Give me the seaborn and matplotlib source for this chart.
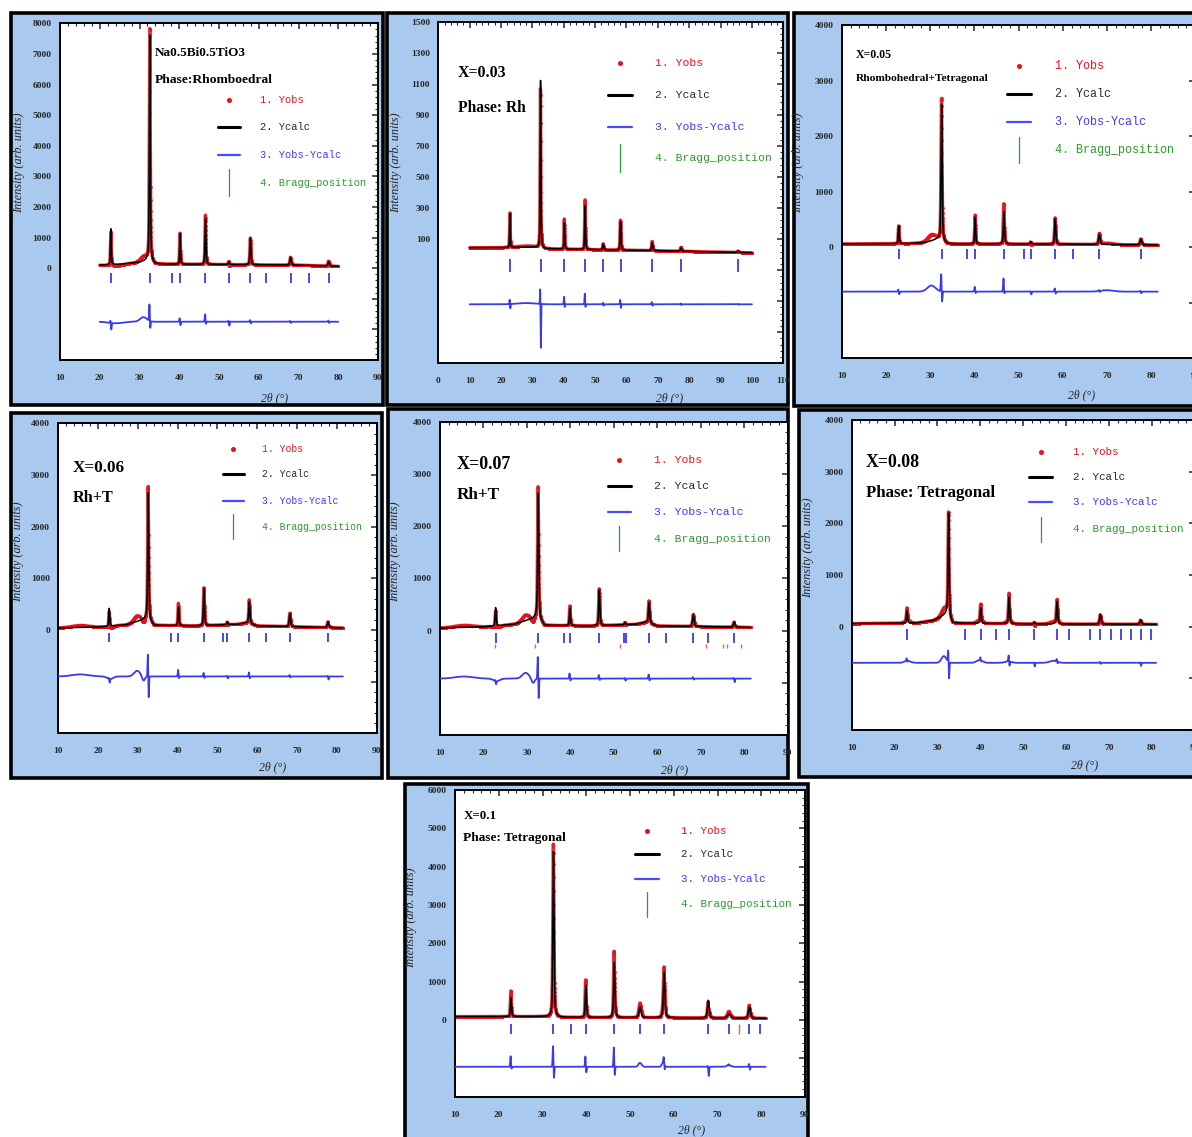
import numpy as np
import matplotlib
matplotlib.use("Agg")
import matplotlib.pyplot as plt
from matplotlib.patches import Rectangle
from matplotlib.ticker import FixedLocator, AutoMinorLocator, FuncFormatter
import seaborn as sns

# ----------------------------------------------------------------------
# Rietveld refinement results, Na0.5Bi0.5TiO3-based ceramics (2θ in °)
# ----------------------------------------------------------------------

# --- x = 0 : Na0.5Bi0.5TiO3, rhombohedral ---
nbt_range = [20.0, 80.0]
nbt_bg_x = [20, 25, 30, 32, 34, 40, 50, 60, 70, 80]
nbt_bg_y = [100, 130, 190, 260, 140, 130, 120, 110, 100, 60]
nbt_peak_pos = [22.8, 32.6, 40.2, 46.6, 52.5, 57.9, 68.0, 77.6]
nbt_peak_int = [1170, 7400, 1000, 1500, 90, 870, 250, 140]
nbt_peak_fwhm = [0.25, 0.28, 0.25, 0.28, 0.35, 0.32, 0.40, 0.45]
nbt_bragg = [22.8, 32.6, 38.3, 40.2, 46.6, 52.5, 57.9, 61.9, 68.0, 72.6, 77.6]
nbt_diff_offset = -1750
nbt_diff_up = [80, 550, 120, 250, 40, 60, 30, 40]
nbt_diff_down = [220, 250, 120, 80, 130, 60, 40, 40]
nbt_hump_pos = [24.0, 31.0]
nbt_hump_amp = [-50, 150]
nbt_hump_wid = [2.5, 1.2]
nbt_yticks = [-3000, -2000, -1000, 0, 1000, 2000, 3000, 4000, 5000, 6000, 7000, 8000]

# --- x = 0.03 : rhombohedral ---
x03_range = [10.0, 100.0]
x03_bg_x = [10, 20, 30, 34, 50, 70, 100]
x03_bg_y = [45, 45, 48, 38, 32, 25, 12]
x03_peak_pos = [22.85, 32.6, 40.2, 46.8, 52.6, 58.1, 68.2, 77.4, 95.6]
x03_peak_int = [218, 1080, 170, 284, 35, 183, 50, 22, 8]
x03_peak_fwhm = [0.25, 0.28, 0.28, 0.30, 0.40, 0.35, 0.45, 0.50, 0.60]
x03_bragg = [22.85, 32.6, 40.2, 46.8, 52.6, 58.1, 68.2, 77.4, 95.6]
x03_diff_offset = -320
x03_diff_up = [30, 110, 50, 70, 10, 30, 15, 5, 3]
x03_diff_down = [30, 290, 20, 20, 10, 25, 10, 5, 3]
x03_hump_pos = [28.0]
x03_hump_amp = [8]
x03_hump_wid = [4.0]
x03_yticks = [-700, -500, -300, -100, 100, 300, 500, 700, 900, 1100, 1300, 1500]

# --- x = 0.05 : rhombohedral + tetragonal ---
x05_range = [10.0, 81.5]
x05_bg_x = [10, 25, 29, 31.5, 34, 45, 60, 81.5]
x05_bg_y = [60, 65, 85, 140, 60, 60, 55, 40]
x05_peak_pos = [22.9, 32.6, 40.2, 46.7, 52.8, 58.3, 68.3, 77.7]
x05_peak_int = [320, 2470, 480, 575, 40, 455, 185, 105]
x05_peak_fwhm = [0.25, 0.30, 0.25, 0.30, 0.35, 0.32, 0.40, 0.45]
x05_bragg = [22.9, 32.6, 38.4, 40.2, 46.7, 51.3, 52.8, 58.3, 62.3, 68.3, 77.7]
x05_diff_offset = -800
x05_diff_up = [40, 320, 90, 240, 10, 60, 20, 15]
x05_diff_down = [50, 200, 30, 40, 50, 40, 20, 30]
x05_hump_pos = [30.3, 70.0]
x05_hump_amp = [110, 25]
x05_hump_wid = [1.3, 2.0]
x05_yticks = [-2000, -1000, 0, 1000, 2000, 3000, 4000]

# --- x = 0.06 : Rh + T ---
x06_range = [10.0, 81.5]
x06_bg_x = [10, 20, 27, 31, 32.3, 34, 45, 55, 57.5, 60, 81.5]
x06_bg_y = [40, 55, 100, 190, 230, 90, 80, 110, 140, 80, 40]
x06_peak_pos = [22.8, 32.6, 40.2, 46.6, 52.5, 58.0, 68.2, 77.8]
x06_peak_int = [345, 2450, 360, 710, 50, 420, 250, 115]
x06_peak_fwhm = [0.28, 0.32, 0.28, 0.32, 0.35, 0.35, 0.42, 0.45]
x06_bragg = [22.8, 38.2, 40.2, 46.6, 51.3, 52.5, 58.0, 62.1, 68.2, 77.8]
x06_diff_offset = -900
x06_diff_up = [20, 450, 130, 70, 15, 80, 30, 15]
x06_diff_down = [70, 430, 40, 30, 40, 40, 20, 60]
x06_hump_pos = [15.5, 29.8, 31.4, 23.0]
x06_hump_amp = [40, 110, -90, -50]
x06_hump_wid = [3.0, 1.1, 0.5, 1.0]
x06_yticks = [-2000, -1000, 0, 1000, 2000, 3000, 4000]

# --- x = 0.07 : Rh + T ---
x07_range = [10.0, 81.5]
x07_bg_x = [10, 20, 27, 31, 32.3, 34, 45, 55, 57.5, 60, 81.5]
x07_bg_y = [50, 70, 120, 220, 260, 100, 90, 120, 160, 90, 60]
x07_peak_pos = [22.8, 32.6, 39.9, 46.65, 52.6, 58.1, 68.3, 77.7]
x07_peak_int = [350, 2400, 330, 680, 40, 390, 220, 100]
x07_peak_fwhm = [0.28, 0.32, 0.28, 0.32, 0.35, 0.35, 0.42, 0.45]
x07_bragg = [22.8, 32.6, 38.6, 39.9, 46.65, 52.4, 52.7, 58.1, 62.1, 68.3, 71.7, 77.7]
x07_bragg2 = [22.6, 31.8, 51.4, 71.2, 75.1, 76.0, 79.2]
x07_diff_offset = -920
x07_diff_up = [20, 440, 100, 70, 15, 80, 30, 15]
x07_diff_down = [60, 400, 40, 30, 40, 40, 20, 70]
x07_hump_pos = [15.5, 29.7, 31.4, 23.0]
x07_hump_amp = [40, 110, -90, -50]
x07_hump_wid = [3.0, 1.1, 0.5, 1.0]
x07_yticks = [-2000, -1000, 0, 1000, 2000, 3000, 4000]

# --- x = 0.08 : tetragonal ---
x08_range = [10.0, 81.0]
x08_bg_x = [10, 25, 29, 31.5, 32.2, 33.5, 50, 81]
x08_bg_y = [60, 70, 120, 220, 260, 70, 55, 45]
x08_peak_pos = [22.9, 32.6, 40.1, 46.7, 52.6, 57.9, 68.0, 77.4]
x08_peak_int = [235, 2000, 300, 515, 30, 435, 180, 85]
x08_peak_fwhm = [0.30, 0.30, 0.30, 0.32, 0.35, 0.35, 0.42, 0.45]
x08_bragg = [22.9, 36.5, 40.1, 43.6, 46.7, 52.6, 57.9, 60.6, 65.6, 68.0,
             70.5, 72.8, 75.1, 77.4, 79.8]
x08_diff_offset = -700
x08_diff_up = [50, 230, 60, 120, 10, 50, 20, 10]
x08_diff_down = [20, 330, 20, 90, 70, 30, 20, 60]
x08_hump_pos = [31.5, 39.8, 57.0, 23.0, 46.5]
x08_hump_amp = [130, 50, 40, 40, 30]
x08_hump_wid = [0.8, 1.0, 1.2, 1.0, 1.0]
x08_yticks = [-2000, -1000, 0, 1000, 2000, 3000, 4000]

# --- x = 0.1 : tetragonal ---
x10_range = [10.0, 81.0]
x10_bg_x = [10, 30, 34, 60, 81]
x10_bg_y = [90, 90, 70, 60, 45]
x10_peak_pos = [22.8, 32.5, 39.9, 46.4, 52.3, 57.8, 67.9, 72.6, 77.3]
x10_peak_int = [485, 4320, 840, 1430, 280, 1180, 460, 110, 290]
x10_peak_fwhm = [0.30, 0.32, 0.32, 0.35, 0.55, 0.40, 0.45, 0.80, 0.55]
x10_bragg = [22.8, 32.5, 36.5, 39.9, 46.4, 52.3, 57.8, 67.9, 72.7, 77.3, 79.6]
x10_bragg2 = [75.0]
x10_diff_offset = -1220
x10_diff_up = [280, 560, 280, 520, 0, 150, 30, 20, 80]
x10_diff_down = [60, 320, 160, 240, 20, 140, 240, 20, 80]
x10_hump_pos = [52.3, 57.6, 72.6]
x10_hump_amp = [110, 120, 50]
x10_hump_wid = [0.5, 0.4, 0.6]
x10_yticks = [-2000, -1000, 0, 1000, 2000, 3000, 4000, 5000, 6000]

xticks_80 = [10, 20, 30, 40, 50, 60, 70, 80, 90]
xticks_110 = [0, 10, 20, 30, 40, 50, 60, 70, 80, 90, 100, 110]

legend_labels = ["1. Yobs", "2. Ycalc", "3. Yobs-Ycalc", "4. Bragg_position"]

# ----------------------------------------------------------------------
# Styling
# ----------------------------------------------------------------------
sns.set_style("white")
plt.rcParams["font.family"] = ["Liberation Serif", "DejaVu Serif"]
plt.rcParams["font.weight"] = "bold"

W, H = 1192, 1137
PANEL_BLUE = "#a9c9ee"
RED = "#e8121a"
BLUE = "#3a3ae8"
TICK_BLUE = "#2a2ae0"
GREEN = "#2e9a2e"
LEG_COLORS = [RED, "#2a2a2a", "#3a3aff", GREEN]


def pseudo_voigt(x, pos, inten, fwhm, eta=0.5):
    y = np.zeros_like(x)
    for c, h, w in zip(pos, inten, fwhm):
        u = (x - c) / w
        y += h * (eta / (1 + 4 * u ** 2) + (1 - eta) * np.exp(-4 * np.log(2) * u ** 2))
    return y


def misfit(x, pos, up, down, hpos, hamp, hwid, w=0.12):
    d = np.zeros_like(x)
    for c, a, b in zip(pos, up, down):
        d += a * np.exp(-((x - (c - 0.8 * w)) / w) ** 2)
        d -= b * np.exp(-((x - (c + 0.8 * w)) / w) ** 2)
    for c, a, s in zip(hpos, hamp, hwid):
        d += a * np.exp(-((x - c) / s) ** 2)
    return d


panels = [
    dict(rng=nbt_range, bgx=nbt_bg_x, bgy=nbt_bg_y, pos=nbt_peak_pos, inten=nbt_peak_int,
         fwhm=nbt_peak_fwhm, bragg=nbt_bragg, bragg2=None, off=nbt_diff_offset,
         up=nbt_diff_up, down=nbt_diff_down, hpos=nbt_hump_pos, hamp=nbt_hump_amp,
         hwid=nbt_hump_wid, yticks=nbt_yticks, xticks=xticks_80,
         notes=["Na0.5Bi0.5TiO3", "Phase:Rhomboedral"]),
    dict(rng=x03_range, bgx=x03_bg_x, bgy=x03_bg_y, pos=x03_peak_pos, inten=x03_peak_int,
         fwhm=x03_peak_fwhm, bragg=x03_bragg, bragg2=None, off=x03_diff_offset,
         up=x03_diff_up, down=x03_diff_down, hpos=x03_hump_pos, hamp=x03_hump_amp,
         hwid=x03_hump_wid, yticks=x03_yticks, xticks=xticks_110,
         notes=["X=0.03", "Phase: Rh"]),
    dict(rng=x05_range, bgx=x05_bg_x, bgy=x05_bg_y, pos=x05_peak_pos, inten=x05_peak_int,
         fwhm=x05_peak_fwhm, bragg=x05_bragg, bragg2=None, off=x05_diff_offset,
         up=x05_diff_up, down=x05_diff_down, hpos=x05_hump_pos, hamp=x05_hump_amp,
         hwid=x05_hump_wid, yticks=x05_yticks, xticks=xticks_80,
         notes=["X=0.05", "Rhombohedral+Tetragonal"]),
    dict(rng=x06_range, bgx=x06_bg_x, bgy=x06_bg_y, pos=x06_peak_pos, inten=x06_peak_int,
         fwhm=x06_peak_fwhm, bragg=x06_bragg, bragg2=None, off=x06_diff_offset,
         up=x06_diff_up, down=x06_diff_down, hpos=x06_hump_pos, hamp=x06_hump_amp,
         hwid=x06_hump_wid, yticks=x06_yticks, xticks=xticks_80,
         notes=["X=0.06", "Rh+T"]),
    dict(rng=x07_range, bgx=x07_bg_x, bgy=x07_bg_y, pos=x07_peak_pos, inten=x07_peak_int,
         fwhm=x07_peak_fwhm, bragg=x07_bragg, bragg2=x07_bragg2, off=x07_diff_offset,
         up=x07_diff_up, down=x07_diff_down, hpos=x07_hump_pos, hamp=x07_hump_amp,
         hwid=x07_hump_wid, yticks=x07_yticks, xticks=xticks_80,
         notes=["X=0.07", "Rh+T"]),
    dict(rng=x08_range, bgx=x08_bg_x, bgy=x08_bg_y, pos=x08_peak_pos, inten=x08_peak_int,
         fwhm=x08_peak_fwhm, bragg=x08_bragg, bragg2=None, off=x08_diff_offset,
         up=x08_diff_up, down=x08_diff_down, hpos=x08_hump_pos, hamp=x08_hump_amp,
         hwid=x08_hump_wid, yticks=x08_yticks, xticks=xticks_80,
         notes=["X=0.08", "Phase: Tetragonal"]),
    dict(rng=x10_range, bgx=x10_bg_x, bgy=x10_bg_y, pos=x10_peak_pos, inten=x10_peak_int,
         fwhm=x10_peak_fwhm, bragg=x10_bragg, bragg2=x10_bragg2, off=x10_diff_offset,
         up=x10_diff_up, down=x10_diff_down, hpos=x10_hump_pos, hamp=x10_hump_amp,
         hwid=x10_hump_wid, yticks=x10_yticks, xticks=xticks_80,
         notes=["X=0.1", "Phase: Tetragonal"]),
]

# Layout of each panel (pixels from the top-left corner of the figure)
layout = [
    dict(frame=(10.5, 13, 382.5, 405), axes=(60, 23.3, 378, 360), tick_y=(-500, -160),
         tick2_y=None, leg=(0.531, 0.629, [0.772, 0.692, 0.609, 0.526], 7.5),
         note=(0.299, [0.912, 0.832], [9.5, 9.7]), ylab=(19, 163), xlab=(275, 398)),
    dict(frame=(387, 13.5, 788, 405), axes=(438.3, 21.7, 783.3, 363.3), tick_y=(-115, -30),
         tick2_y=None, leg=(0.527, 0.628, [0.879, 0.785, 0.692, 0.601], 8.2),
         note=(0.057, [0.85, 0.747], [11.4, 11.2]), ylab=(396, 163), xlab=(670, 398)),
    dict(frame=(793.5, 13, 1205, 405.5), axes=(841.7, 25, 1195.3, 358.3), tick_y=(-210, -30),
         tick2_y=None, leg=(0.501, 0.602, [0.878, 0.793, 0.710, 0.625], 8.5),
         note=(0.041, [0.91, 0.838], [8.5, 8.2]), ylab=(798, 163), xlab=(1082, 395)),
    dict(frame=(10.5, 413.5, 381.5, 777.5), axes=(58.3, 423.3, 376.7, 733.3), tick_y=(-225, -65),
         tick2_y=None, leg=(0.55, 0.639, [0.917, 0.835, 0.750, 0.666], 7.0),
         note=(0.045, [0.857, 0.76], [12.3, 11.6]), ylab=(18, 552), xlab=(273, 767)),
    dict(frame=(388, 409, 788, 778), axes=(440, 421.7, 787.7, 735), tick_y=(-245, -50),
         tick2_y=(-330, -265), leg=(0.516, 0.616, [0.878, 0.796, 0.711, 0.626], 8.2),
         note=(0.048, [0.864, 0.766], [13.0, 12.3]), ylab=(395, 552), xlab=(675, 770)),
    dict(frame=(799, 410, 1205, 777), axes=(851.7, 420, 1194.7, 730), tick_y=(-260, -45),
         tick2_y=None, leg=(0.551, 0.646, [0.896, 0.817, 0.735, 0.648], 7.8),
         note=(0.042, [0.864, 0.764], [12.8, 12.1]), ylab=(808, 548), xlab=(1085, 765)),
    dict(frame=(405, 783.5, 807.5, 1145), axes=(455, 790, 805, 1096.7), tick_y=(-375, -115),
         tick2_y=(-375, -115), leg=(0.549, 0.645, [0.867, 0.790, 0.709, 0.627], 7.8),
         note=(0.024, [0.916, 0.844], [9.4, 9.6]), ylab=(411, 918), xlab=(692, 1130)),
]


def fig_box(x0, y0, x1, y1):
    return [x0 / W, 1 - y1 / H, (x1 - x0) / W, (y1 - y0) / H]


fig = plt.figure(figsize=(W / 100, H / 100), dpi=100, facecolor="white")

for p, lay in zip(panels, layout):
    fx0, fy0, fx1, fy1 = lay["frame"]
    fig.add_artist(Rectangle((fx0 / W, 1 - fy1 / H), (fx1 - fx0) / W, (fy1 - fy0) / H,
                             transform=fig.transFigure, facecolor=PANEL_BLUE,
                             edgecolor="black", linewidth=2.6, zorder=-5))

    ax0, ay0, ax1, ay1 = lay["axes"]
    ax = fig.add_axes(fig_box(ax0, ay0, ax1, ay1))
    ax.set_facecolor("white")
    ax_w, ax_h = ax1 - ax0, ay1 - ay0

    x = np.arange(p["rng"][0], p["rng"][1] + 1e-9, 0.01)
    ycalc = np.interp(x, p["bgx"], p["bgy"]) + pseudo_voigt(x, p["pos"], p["inten"], p["fwhm"])
    dev = misfit(x, p["pos"], p["up"], p["down"], p["hpos"], p["hamp"], p["hwid"])
    yobs = ycalc + dev
    ydiff = p["off"] + dev

    # observed points: a dense red trace of small dots
    sns.lineplot(x=x, y=yobs, color=RED, linewidth=2.4, alpha=0.85, estimator=None,
                 sort=False, ax=ax, legend=False, zorder=2)
    sns.scatterplot(x=x[::2], y=yobs[::2], s=4, color=RED, linewidth=0, alpha=0.9,
                    ax=ax, legend=False, zorder=2)
    sns.lineplot(x=x, y=ycalc, color="black", linewidth=1.1, estimator=None,
                 sort=False, ax=ax, legend=False, zorder=3)
    sns.lineplot(x=x, y=ydiff, color=BLUE, linewidth=1.3, estimator=None,
                 sort=False, ax=ax, legend=False, zorder=3)
    ax.vlines(p["bragg"], lay["tick_y"][0], lay["tick_y"][1], color=TICK_BLUE,
              linewidth=1.2, zorder=3)
    if p["bragg2"] is not None:
        ax.vlines(p["bragg2"], lay["tick2_y"][0], lay["tick2_y"][1], color=RED,
                  linewidth=1.0, alpha=0.7, zorder=3)

    # axes, ticks
    ax.set_xlim(p["xticks"][0], p["xticks"][-1])
    ax.set_ylim(p["yticks"][0], p["yticks"][-1])
    ax.xaxis.set_major_locator(FixedLocator(p["xticks"]))
    ax.yaxis.set_major_locator(FixedLocator(p["yticks"]))
    ax.xaxis.set_minor_locator(AutoMinorLocator(5))
    ax.yaxis.set_minor_locator(AutoMinorLocator(5))
    ax.xaxis.set_major_formatter(FuncFormatter(lambda v, _: f"{v:.0f}"))
    ax.yaxis.set_major_formatter(FuncFormatter(lambda v, _: f"{v:.0f}" if v >= 0 else ""))
    ax.tick_params(which="both", direction="in", top=True, right=True, labelsize=6.8)
    ax.tick_params(which="major", length=4.5, width=1.1)
    ax.tick_params(which="minor", length=2.2, width=0.8)
    ax.tick_params(axis="x", pad=10.0)
    ax.tick_params(axis="y", pad=6.0)
    for sp in ax.spines.values():
        sp.set_linewidth(1.4)
        sp.set_color("black")

    ax.set_xlabel("2θ (°)", fontsize=8.5, fontstyle="italic", va="center")
    ax.xaxis.set_label_coords((lay["xlab"][0] - ax0) / ax_w, -(lay["xlab"][1] - ay1) / ax_h)
    ax.set_ylabel("Intensity (arb. units)", fontsize=8.8, fontstyle="italic", va="center")
    ax.yaxis.set_label_coords((lay["ylab"][0] - ax0) / ax_w, 1 - (lay["ylab"][1] - ay0) / ax_h)

    # sample / phase annotation
    nx, nys, nfs = lay["note"]
    for txt, ny, fs in zip(p["notes"], nys, nfs):
        ax.text(nx, ny, txt, transform=ax.transAxes, fontsize=fs, fontweight="bold",
                ha="left", va="center", color="black", zorder=5)

    # legend block
    mx, tx, lys, lfs = lay["leg"]
    hw = 0.034
    ax.plot([mx], [lys[0]], "o", ms=2.6, color=RED, transform=ax.transAxes, zorder=5)
    ax.plot([mx - hw, mx + hw], [lys[1], lys[1]], color="black", lw=2.2,
            transform=ax.transAxes, zorder=5)
    ax.plot([mx - hw, mx + hw], [lys[2], lys[2]], color="#4a4aff", lw=1.6,
            transform=ax.transAxes, zorder=5)
    ax.plot([mx, mx], [lys[3] - 0.04, lys[3] + 0.04], color=GREEN, lw=0.9,
            transform=ax.transAxes, zorder=5)
    for lab, ly, col in zip(legend_labels, lys, LEG_COLORS):
        ax.text(tx, ly, lab, transform=ax.transAxes, fontsize=lfs, fontweight="normal",
                family=["Liberation Mono", "DejaVu Sans Mono"], color=col,
                ha="left", va="center", zorder=5)

fig.savefig("out.png", dpi=100, facecolor="white")
